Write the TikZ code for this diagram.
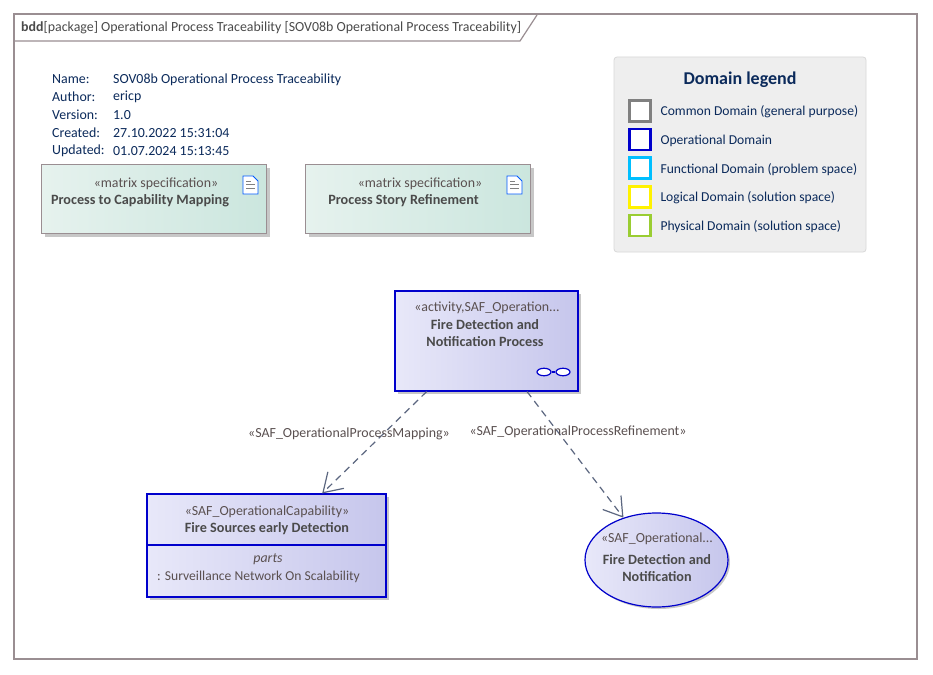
\documentclass[tikz,border=0pt]{standalone}
\usepackage{fontspec}
\setmainfont{Carlito}
\usetikzlibrary{arrows.meta, positioning, calc, shadows, shapes.geometric}

\definecolor{frameline}{HTML}{9A8E92}
\definecolor{titletext}{HTML}{4A4A4A}
\definecolor{navytext}{HTML}{0B2A5B}
\definecolor{opblue}{HTML}{0000CC}
\definecolor{edgeline}{HTML}{5C6780}
\definecolor{labeltext}{HTML}{5A5050}
\definecolor{matrixleft}{HTML}{E6F2EE}
\definecolor{matrixright}{HTML}{CBE6DE}
\definecolor{opleft}{HTML}{E8E8F9}
\definecolor{opright}{HTML}{C6C6EC}
\definecolor{funccyan}{HTML}{00BFFF}
\definecolor{physgreen}{HTML}{9ACD32}

\newcommand{\bodyfont}{\fontsize{13.9}{16}\selectfont}
\newcommand{\legendfont}{\fontsize{13.6}{16}\selectfont}

\begin{document}
\begin{tikzpicture}[x=1pt, y=-1pt, node distance=28.6pt, >=stealth, font=\bodyfont]
    % Styles
    \tikzset{
        matrixbox/.style={rectangle, draw=frameline, line width=1.3pt, left color=matrixleft, right color=matrixright, shading angle=90, minimum width=225pt, minimum height=69pt, drop shadow={shadow xshift=3pt, shadow yshift=-3pt, fill=black!22, opacity=1}},
        opbox/.style={rectangle, draw=opblue, line width=1.1pt, left color=opleft, right color=opright, shading angle=90, drop shadow={shadow xshift=3pt, shadow yshift=-3pt, fill=black!22, opacity=1}},
        swatch/.style={rectangle, fill=white, line width=2.6pt, minimum size=21pt, inner sep=0pt},
        legendtext/.style={anchor=west, text=navytext, inner sep=0pt, font=\legendfont},
        stereo/.style={text=labeltext, inner sep=0pt},
        nametext/.style={text=titletext, inner sep=0pt, font=\fontsize{14.2}{17}\selectfont\bfseries},
        infotext/.style={anchor=west, text=navytext, inner sep=0pt},
        trace/.style={draw=edgeline, line width=1.2pt, dash pattern=on 7pt off 5pt},
        tracetip/.style={-{Straight Barb[length=18pt, width=23pt, line width=1.2pt]}},
        docicon/.style={draw=blue!65!cyan, line width=0.9pt, fill=white},
    }

    \useasboundingbox (0,0) rectangle (933,674);

    % Frame
    \draw[frameline, line width=2pt, fill=white] (14,14) rectangle (917,659);
    \draw[frameline, line width=1.2pt] (14,41) -- (520,41) -- (537,15);
    \node[anchor=west, text=titletext, inner sep=0pt] (frametitle) at (21,28) {\textbf{bdd}[package] Operational Process Traceability [SOV08b Operational Process Traceability]};

    % Diagram info
    \node[infotext] (infoname) at (52,79.5) {Name:};
    \node[infotext] (infoauthor) at (52,97) {Author:};
    \node[infotext] (infoversion) at (52,115) {Version:};
    \node[infotext] (infocreated) at (52,133) {Created:};
    \node[infotext] (infoupdated) at (52,151) {Updated:};
    \node[infotext] (valname) at (113,79.5) {SOV08b Operational Process Traceability};
    \node[infotext] (valauthor) at (113,97) {ericp};
    \node[infotext] (valversion) at (113,115) {1.0};
    \node[infotext] (valcreated) at (113,133) {27.10.2022 15:31:04};
    \node[infotext] (valupdated) at (113,151) {01.07.2024 15:13:45};

    % Matrix specifications
    \node[matrixbox] (mappingbox) at (154,199) {};
    \node[matrixbox, right of=mappingbox, node distance=264pt] (storybox) {};
    \node[stereo] (mappingst) at (156,184) {«matrix specification»};
    \node[nametext] (mappingname) at (140,201) {Process to Capability Mapping};
    \node[stereo] (storyst) at (420,184) {«matrix specification»};
    \node[nametext] (storyname) at (403.5,201) {Process Story Refinement};

    % Document icons
    \draw[docicon] (243,176) -- (253,176) -- (258,181) -- (258,194) -- (243,194) -- cycle;
    \draw[docicon, draw=black!50] (246,181) -- (251,181) (246,184.5) -- (255,184.5) (246,188) -- (255,188);
    \draw[docicon] (507,176) -- (517,176) -- (522,181) -- (522,194) -- (507,194) -- cycle;
    \draw[docicon, draw=black!50] (510,181) -- (515,181) (510,184.5) -- (519,184.5) (510,188) -- (519,188);

    % Legend
    \node[rectangle, draw=black!15, fill=black!6.5, rounded corners=3pt, line width=0.8pt, minimum width=252pt, minimum height=195pt] (legendbox) at (740,154.5) {};
    \node[text=navytext, inner sep=0pt, font=\fontsize{18}{20}\selectfont\bfseries] (legendtitle) at (740,80) {Domain legend};
    \node[swatch, draw=black!50] (swcommon) at (640,111) {};
    \node[swatch, draw=opblue, below of=swcommon] (swop) {};
    \node[swatch, draw=funccyan, below of=swop] (swfunc) {};
    \node[swatch, draw=yellow, below of=swfunc] (swlogic) {};
    \node[swatch, draw=physgreen, below of=swlogic] (swphys) {};
    \node[legendtext, right=8.5pt of swcommon, yshift=-1pt] (ltcommon) {Common Domain (general purpose)};
    \node[legendtext, right=8.5pt of swop, yshift=-1pt] (ltop) {Operational Domain};
    \node[legendtext, right=8.5pt of swfunc, yshift=-1pt] (ltfunc) {Functional Domain (problem space)};
    \node[legendtext, right=8.5pt of swlogic, yshift=-1pt] (ltlogic) {Logical Domain (solution space)};
    \node[legendtext, right=8.5pt of swphys, yshift=-1pt] (ltphys) {Physical Domain (solution space)};

    % Process block
    \node[opbox, minimum width=183pt, minimum height=100pt] (processbox) at (486.5,341) {};
    \node[stereo] (processst) at (487,308) {«activity,SAF\_Operation...};
    \node[nametext] (processname) at (485,335) {\begin{tabular}{@{}c@{}}Fire Detection and\\Notification Process\end{tabular}};
    \node[ellipse, draw=opblue, line width=1.2pt, fill=white, minimum width=14pt, minimum height=7.5pt, inner sep=0pt] (glassleft) at (544,372) {};
    \node[ellipse, draw=opblue, line width=1.2pt, fill=white, minimum width=14pt, minimum height=7.5pt, inner sep=0pt] (glassright) at (563,372) {};
    \draw[opblue, line width=1.2pt] (glassleft) -- (glassright);

    % Capability block
    \node[opbox, minimum width=239pt, minimum height=103pt] (capbox) at (266.5,545.5) {};
    \draw[opblue, line width=1.1pt] (capbox.west |- 0,545) -- (capbox.east |- 0,545);
    \node[stereo] (capst) at (267,512) {«SAF\_OperationalCapability»};
    \node[nametext] (capname) at (267,529) {Fire Sources early Detection};
    \node[stereo, font=\bodyfont\itshape] (capparts) at (268,559) {parts};
    \node[stereo, anchor=west, font=\legendfont] (cappart) at (157,577) {: Surveillance Network On Scalability};

    % Use case
    \node[ellipse, draw=opblue, line width=1.2pt, left color=opleft, right color=opright, shading angle=90, minimum width=143pt, minimum height=94pt, inner sep=0pt, drop shadow={shadow xshift=2pt, shadow yshift=-2pt, fill=black!22, opacity=1}] (opusecase) at (656.5,560) {};
    \node[stereo] (usest) at (657,539) {«SAF\_Operational...};
    \node[nametext] (usename) at (657,570) {\begin{tabular}{@{}c@{}}Fire Detection and\\Notification\end{tabular}};

    % Traces
    \path[trace, tracetip] ($(processbox.south west)!0.175!(processbox.south east)$) -- ($(capbox.north west)!0.732!(capbox.north east)$);
    \path[trace, tracetip] ($(processbox.south west)!0.72!(processbox.south east)$) -- (opusecase.128);
    \node[stereo] (mappinglabel) at (349,434) {«SAF\_OperationalProcessMapping»};
    \node[stereo] (refinelabel) at (578,431.5) {«SAF\_OperationalProcessRefinement»};

\end{tikzpicture}
\end{document}
